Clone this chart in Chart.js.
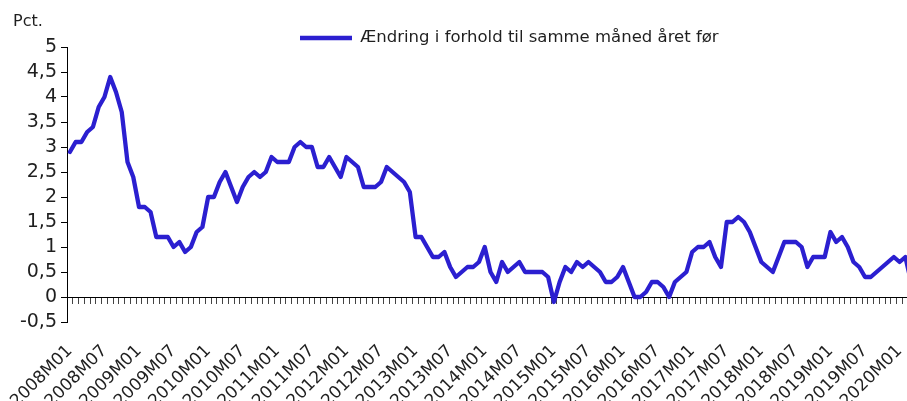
<!DOCTYPE html>
<html>
<head>
<meta charset="utf-8">
<script src="https://cdn.jsdelivr.net/npm/chart.js@4.4.1/dist/chart.umd.min.js"></script>
<style>
  html, body { margin: 0; padding: 0; background: #fff; overflow: hidden; width: 907px; height: 401px; }
  #wrap { position: absolute; left: 0; top: 0; width: 914px; height: 401px; }
</style>
</head>
<body>
<div id="wrap"><canvas id="chart"></canvas></div>
<script>
  // Årlig stigning, pct., månedlig fra 2008M01
  const firstYear = 2008;
  const inflation = [
    2.9, 3.1, 3.1, 3.3, 3.4, 3.8, 4.0, 4.4, 4.1, 3.7, 2.7, 2.4,
    1.8, 1.8, 1.7, 1.2, 1.2, 1.2, 1.0, 1.1, 0.9, 1.0, 1.3, 1.4,
    2.0, 2.0, 2.3, 2.5, 2.2, 1.9, 2.2, 2.4, 2.5, 2.4, 2.5, 2.8,
    2.7, 2.7, 2.7, 3.0, 3.1, 3.0, 3.0, 2.6, 2.6, 2.8, 2.6, 2.4,
    2.8, 2.7, 2.6, 2.2, 2.2, 2.2, 2.3, 2.6, 2.5, 2.4, 2.3, 2.1,
    1.2, 1.2, 1.0, 0.8, 0.8, 0.9, 0.6, 0.4, 0.5, 0.6, 0.6, 0.7,
    1.0, 0.5, 0.3, 0.7, 0.5, 0.6, 0.7, 0.5, 0.5, 0.5, 0.5, 0.4,
    -0.1, 0.3, 0.6, 0.5, 0.7, 0.6, 0.7, 0.6, 0.5, 0.3, 0.3, 0.4,
    0.6, 0.3, 0.0, 0.0, 0.1, 0.3, 0.3, 0.2, 0.0, 0.3, 0.4, 0.5,
    0.9, 1.0, 1.0, 1.1, 0.8, 0.6, 1.5, 1.5, 1.6, 1.5, 1.3, 1.0,
    0.7, 0.6, 0.5, 0.8, 1.1, 1.1, 1.1, 1.0, 0.6, 0.8, 0.8, 0.8,
    1.3, 1.1, 1.2, 1.0, 0.7, 0.6, 0.4, 0.4, 0.5, 0.6, 0.7, 0.8,
    0.7, 0.8, 0.3
  ];
  const shownMonths = ["01", "07"];
  const months = inflation.map((_, i) => {
    const y = firstYear + Math.floor(i / 12);
    const m = String((i % 12) + 1).padStart(2, "0");
    return y + "M" + m;
  });

  const ink = "#1f1f1f";
  const lineColor = "#2b1fd0";
  const font = "'DejaVu Sans', sans-serif";
  // legend box is pinned above the plot, right of centre
  const legendLeft = 298;
  const legendTop = 27.75;

  const pinLegend = {
    id: "pinLegend",
    afterLayout(chart) {
      const l = chart.legend;
      if (!l) return;
      const w = l.right - l.left;
      const h = l.bottom - l.top;
      l.left = legendLeft;
      l.right = legendLeft + w;
      l.top = legendTop;
      l.bottom = legendTop + h;
    },
  };

  new Chart(document.getElementById("chart"), {
    type: "line",
    data: {
      labels: months,
      datasets: [
        {
          label: "Ændring i forhold til samme måned året før",
          data: inflation,
          borderColor: lineColor,
          backgroundColor: lineColor,
          borderWidth: 4.3,
          borderJoinStyle: "round",
          borderCapStyle: "round",
          pointRadius: 0,
          tension: 0,
        },
      ],
    },
    options: {
      responsive: true,
      maintainAspectRatio: false,
      animation: false,
      layout: { padding: { left: 13, right: 0, top: 0, bottom: 79 } },
      plugins: {
        title: {
          display: true,
          text: "Pct.",
          align: "start",
          color: ink,
          font: { family: font, size: 16, weight: "normal" },
          padding: { top: 12.5, bottom: 15.3 },
        },
        legend: {
          display: true,
          position: "chartArea",
          align: "start",
          labels: {
            usePointStyle: true,
            pointStyle: "line",
            pointStyleWidth: 52,
            color: ink,
            padding: 2,
            font: { family: font, size: 16.5 },
          },
        },
        tooltip: { enabled: false },
      },
      scales: {
        x: {
          type: "category",
          position: { y: 0 },
          offset: true,
          afterFit: (s) => { s.paddingLeft = 0; s.paddingRight = 0; },
          grid: {
            display: true,
            offset: true,
            drawOnChartArea: false,
            drawTicks: true,
            tickLength: 6,
            color: "#444",
          },
          border: { display: true, color: "#000", width: 1 },
          ticks: {
            autoSkip: false,
            minRotation: 45,
            maxRotation: 45,
            padding: 38,
            color: ink,
            font: { family: font, size: 17 },
            callback: function (v, i) {
              const lab = months[i];
              return shownMonths.includes(lab.slice(-2)) ? lab : "";
            },
          },
        },
        y: {
          min: -0.5,
          max: 5,
          afterFit: (s) => { s.width = 54; },
          grid: {
            display: true,
            drawOnChartArea: false,
            drawTicks: true,
            tickLength: 6,
            color: "#000",
          },
          border: { display: true, color: "#000", width: 1 },
          ticks: {
            autoSkip: false,
            stepSize: 0.5,
            padding: 4,
            color: ink,
            font: { family: font, size: 19 },
            callback: (v) => String(Math.round(v * 10) / 10).replace(".", ","),
          },
        },
      },
    },
    plugins: [pinLegend],
  });
</script>
</body>
</html>
